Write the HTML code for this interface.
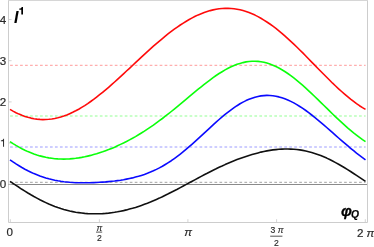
<!DOCTYPE html>
<html><head><meta charset="utf-8"><style>
html,body{margin:0;padding:0;background:#fff;}
svg{display:block}
text{font-family:"Liberation Sans",sans-serif;}
</style></head><body>
<svg style="will-change:transform" width="374" height="247" viewBox="0 0 374 247">
<rect width="374" height="247" fill="#fff"/>
<!-- frame -->
<path d="M8.5,0 V222.5 H367.5 V0" fill="none" stroke="#cdcdcd" stroke-width="1"/>
<path d="M8,0.5H368" fill="none" stroke="#d6d6d6" stroke-width="1"/>
<!-- axis y=0 -->
<path d="M8.5,184.5 H367" stroke="#8a8a8a" stroke-width="1" fill="none"/>
<!-- ticks -->
<g stroke="#cfcfcf" stroke-width="0.9" fill="none">
<path d="M8.8,19.5h2.8M8.8,60.7h2.8M8.8,101.9h2.8M8.8,143.1h2.8M8.8,184.3h2.8"/>
<path d="M10.3,222v-2.8M99.4,222v-2.8M187.9,222v-2.8M276.6,222v-2.8M365.3,222v-2.8"/>
</g>
<!-- dashed -->
<g fill="none" stroke-width="1" stroke-dasharray="2.7,2.285">
<path d="M10.1,65.3H365.6" stroke="#ff9a9a"/>
<path d="M10.1,115.95H365.6" stroke="#b8ffb8" stroke-width="1.5"/>
<path d="M10.1,147H365.6" stroke="#9c9cff"/>
<path d="M10.1,182.3H365.6" stroke="#a0a0a0"/>
</g>
<path d="M10.0,181.4 L13.0,183.4 L16.0,185.4 L19.0,187.3 L21.9,189.3 L24.9,191.1 L27.9,193.0 L30.9,194.8 L33.9,196.5 L36.9,198.1 L39.9,199.7 L42.9,201.2 L45.8,202.6 L48.8,204.0 L51.8,205.2 L54.8,206.4 L57.8,207.5 L60.8,208.5 L63.8,209.4 L66.8,210.2 L69.7,211.0 L72.7,211.6 L75.7,212.2 L78.7,212.6 L81.7,213.0 L84.7,213.4 L87.7,213.6 L90.7,213.7 L93.6,213.8 L96.6,213.8 L99.6,213.7 L102.6,213.6 L105.6,213.4 L108.6,213.1 L111.6,212.7 L114.6,212.3 L117.5,211.8 L120.5,211.2 L123.5,210.6 L126.5,209.9 L129.5,209.1 L132.5,208.3 L135.5,207.4 L138.5,206.4 L141.4,205.4 L144.4,204.3 L147.4,203.2 L150.4,202.0 L153.4,200.7 L156.4,199.4 L159.4,198.1 L162.4,196.7 L165.3,195.2 L168.3,193.8 L171.3,192.2 L174.3,190.7 L177.3,189.2 L180.3,187.6 L183.3,186.0 L186.3,184.4 L189.2,182.8 L192.2,181.2 L195.2,179.6 L198.2,178.0 L201.2,176.4 L204.2,174.8 L207.2,173.3 L210.2,171.7 L213.1,170.2 L216.1,168.8 L219.1,167.3 L222.1,166.0 L225.1,164.6 L228.1,163.3 L231.1,162.0 L234.1,160.8 L237.0,159.6 L240.0,158.5 L243.0,157.4 L246.0,156.4 L249.0,155.4 L252.0,154.5 L255.0,153.7 L258.0,152.9 L260.9,152.1 L263.9,151.5 L266.9,150.9 L269.9,150.4 L272.9,149.9 L275.9,149.6 L278.9,149.3 L281.9,149.1 L284.8,149.0 L287.8,149.0 L290.8,149.1 L293.8,149.2 L296.8,149.5 L299.8,149.9 L302.8,150.4 L305.8,151.0 L308.7,151.7 L311.7,152.5 L314.7,153.4 L317.7,154.4 L320.7,155.5 L323.7,156.8 L326.7,158.1 L329.7,159.5 L332.6,161.0 L335.6,162.6 L338.6,164.2 L341.6,166.0 L344.6,167.8 L347.6,169.6 L350.6,171.5 L353.6,173.5 L356.5,175.4 L359.5,177.4 L362.5,179.4 L365.5,181.4" fill="none" stroke="#101010" stroke-width="1.6" stroke-linejoin="round"/>
<path d="M10.0,159.8 L13.0,161.9 L16.0,163.9 L19.0,165.7 L21.9,167.5 L24.9,169.2 L27.9,170.8 L30.9,172.2 L33.9,173.6 L36.9,174.8 L39.9,176.0 L42.9,177.0 L45.8,178.0 L48.8,178.8 L51.8,179.5 L54.8,180.2 L57.8,180.8 L60.8,181.3 L63.8,181.7 L66.8,182.0 L69.7,182.3 L72.7,182.5 L75.7,182.7 L78.7,182.8 L81.7,182.8 L84.7,182.8 L87.7,182.8 L90.7,182.7 L93.6,182.6 L96.6,182.5 L99.6,182.3 L102.6,182.1 L105.6,181.9 L108.6,181.6 L111.6,181.3 L114.6,181.0 L117.5,180.6 L120.5,180.2 L123.5,179.7 L126.5,179.1 L129.5,178.5 L132.5,177.9 L135.5,177.1 L138.5,176.3 L141.4,175.4 L144.4,174.4 L147.4,173.3 L150.4,172.1 L153.4,170.8 L156.4,169.4 L159.4,167.9 L162.4,166.3 L165.3,164.5 L168.3,162.6 L171.3,160.7 L174.3,158.6 L177.3,156.4 L180.3,154.1 L183.3,151.7 L186.3,149.2 L189.2,146.7 L192.2,144.1 L195.2,141.4 L198.2,138.7 L201.2,135.9 L204.2,133.1 L207.2,130.4 L210.2,127.6 L213.1,124.8 L216.1,122.1 L219.1,119.5 L222.1,116.9 L225.1,114.4 L228.1,112.1 L231.1,109.8 L234.1,107.7 L237.0,105.7 L240.0,103.8 L243.0,102.1 L246.0,100.6 L249.0,99.3 L252.0,98.2 L255.0,97.2 L258.0,96.5 L260.9,95.9 L263.9,95.6 L266.9,95.4 L269.9,95.5 L272.9,95.8 L275.9,96.2 L278.9,96.9 L281.9,97.8 L284.8,98.8 L287.8,100.0 L290.8,101.4 L293.8,102.9 L296.8,104.6 L299.8,106.5 L302.8,108.4 L305.8,110.5 L308.7,112.7 L311.7,115.0 L314.7,117.4 L317.7,119.8 L320.7,122.3 L323.7,124.9 L326.7,127.5 L329.7,130.1 L332.6,132.7 L335.6,135.4 L338.6,138.0 L341.6,140.6 L344.6,143.2 L347.6,145.7 L350.6,148.3 L353.6,150.7 L356.5,153.1 L359.5,155.4 L362.5,157.6 L365.5,159.8" fill="none" stroke="#0a0aff" stroke-width="1.6" stroke-linejoin="round"/>
<path d="M10.0,141.6 L13.0,143.6 L16.0,145.4 L19.0,147.1 L21.9,148.7 L24.9,150.2 L27.9,151.6 L30.9,152.8 L33.9,154.0 L36.9,155.0 L39.9,155.9 L42.9,156.6 L45.8,157.3 L48.8,157.9 L51.8,158.3 L54.8,158.7 L57.8,158.9 L60.8,159.0 L63.8,159.1 L66.8,159.0 L69.7,158.9 L72.7,158.6 L75.7,158.3 L78.7,157.9 L81.7,157.4 L84.7,156.8 L87.7,156.1 L90.7,155.4 L93.6,154.6 L96.6,153.8 L99.6,152.8 L102.6,151.8 L105.6,150.7 L108.6,149.6 L111.6,148.4 L114.6,147.2 L117.5,145.8 L120.5,144.4 L123.5,143.0 L126.5,141.5 L129.5,139.9 L132.5,138.3 L135.5,136.6 L138.5,134.8 L141.4,133.0 L144.4,131.1 L147.4,129.1 L150.4,127.1 L153.4,125.1 L156.4,122.9 L159.4,120.7 L162.4,118.5 L165.3,116.2 L168.3,113.9 L171.3,111.5 L174.3,109.1 L177.3,106.6 L180.3,104.2 L183.3,101.7 L186.3,99.2 L189.2,96.7 L192.2,94.2 L195.2,91.7 L198.2,89.2 L201.2,86.8 L204.2,84.4 L207.2,82.1 L210.2,79.8 L213.1,77.6 L216.1,75.5 L219.1,73.5 L222.1,71.7 L225.1,69.9 L228.1,68.3 L231.1,66.8 L234.1,65.5 L237.0,64.3 L240.0,63.4 L243.0,62.6 L246.0,61.9 L249.0,61.5 L252.0,61.3 L255.0,61.2 L258.0,61.4 L260.9,61.7 L263.9,62.3 L266.9,63.1 L269.9,64.0 L272.9,65.2 L275.9,66.5 L278.9,68.0 L281.9,69.7 L284.8,71.5 L287.8,73.5 L290.8,75.6 L293.8,77.9 L296.8,80.3 L299.8,82.8 L302.8,85.4 L305.8,88.1 L308.7,90.8 L311.7,93.6 L314.7,96.5 L317.7,99.4 L320.7,102.3 L323.7,105.3 L326.7,108.2 L329.7,111.1 L332.6,114.0 L335.6,116.9 L338.6,119.7 L341.6,122.4 L344.6,125.1 L347.6,127.8 L350.6,130.3 L353.6,132.8 L356.5,135.1 L359.5,137.4 L362.5,139.6 L365.5,141.6" fill="none" stroke="#0aff0a" stroke-width="1.6" stroke-linejoin="round"/>
<path d="M10.0,109.4 L13.0,111.1 L16.0,112.7 L19.0,114.1 L21.9,115.3 L24.9,116.4 L27.9,117.3 L30.9,118.1 L33.9,118.7 L36.9,119.1 L39.9,119.4 L42.9,119.6 L45.8,119.5 L48.8,119.3 L51.8,119.0 L54.8,118.5 L57.8,117.8 L60.8,117.0 L63.8,116.1 L66.8,115.0 L69.7,113.7 L72.7,112.3 L75.7,110.8 L78.7,109.2 L81.7,107.4 L84.7,105.6 L87.7,103.6 L90.7,101.5 L93.6,99.4 L96.6,97.1 L99.6,94.7 L102.6,92.3 L105.6,89.8 L108.6,87.3 L111.6,84.7 L114.6,82.0 L117.5,79.3 L120.5,76.6 L123.5,73.8 L126.5,71.0 L129.5,68.3 L132.5,65.5 L135.5,62.7 L138.5,59.9 L141.4,57.1 L144.4,54.3 L147.4,51.6 L150.4,48.9 L153.4,46.2 L156.4,43.6 L159.4,41.1 L162.4,38.6 L165.3,36.1 L168.3,33.7 L171.3,31.4 L174.3,29.2 L177.3,27.1 L180.3,25.0 L183.3,23.1 L186.3,21.2 L189.2,19.5 L192.2,17.9 L195.2,16.3 L198.2,14.9 L201.2,13.7 L204.2,12.5 L207.2,11.5 L210.2,10.6 L213.1,9.9 L216.1,9.3 L219.1,8.8 L222.1,8.5 L225.1,8.4 L228.1,8.4 L231.1,8.5 L234.1,8.8 L237.0,9.2 L240.0,9.8 L243.0,10.6 L246.0,11.5 L249.0,12.6 L252.0,13.8 L255.0,15.1 L258.0,16.6 L260.9,18.3 L263.9,20.1 L266.9,22.0 L269.9,24.0 L272.9,26.2 L275.9,28.4 L278.9,30.8 L281.9,33.3 L284.8,35.9 L287.8,38.6 L290.8,41.3 L293.8,44.1 L296.8,47.0 L299.8,50.0 L302.8,52.9 L305.8,56.0 L308.7,59.0 L311.7,62.1 L314.7,65.1 L317.7,68.2 L320.7,71.3 L323.7,74.3 L326.7,77.3 L329.7,80.3 L332.6,83.2 L335.6,86.0 L338.6,88.8 L341.6,91.5 L344.6,94.1 L347.6,96.6 L350.6,99.1 L353.6,101.4 L356.5,103.6 L359.5,105.7 L362.5,107.6 L365.5,109.4" fill="none" stroke="#ff0a0a" stroke-width="1.6" stroke-linejoin="round"/>

<g fill="#2a2a2a" font-size="11.6" stroke="#2a2a2a" stroke-width="0.2">
<text x="-0.3" y="23.5">4</text>
<text x="-0.3" y="64.7">3</text>
<text x="-0.3" y="105.8">2</text>
<path d="M4.05,146.8 V138.7 H3.35 C3.1,139.8 2.3,140.3 0.9,140.4 V141.2 H3.05 V146.8 Z" stroke="none"/>
<text x="-0.3" y="188.4">0</text>
<text x="6.5" y="235.7">0</text>
<text x="184.3" y="235.5" font-style="italic">π</text>
<text x="356.9" y="236.8">2</text><text x="366.5" y="236.8" font-style="italic">π</text>
</g>
<g fill="#2a2a2a" font-size="8.6" stroke="#2a2a2a" stroke-width="0.15">
<text x="96.4" y="230.6" font-style="italic">π</text>
<text x="96.9" y="241">2</text>
<text x="270.5" y="233">3 <tspan font-style="italic">π</tspan></text>
<text x="273.9" y="245.9">2</text>
</g>
<path d="M96,232.1h6.2M270.2,236.2h12.2" stroke="#2a2a2a" stroke-width="0.8"/>
<text x="14" y="23" font-size="16" font-weight="bold" font-style="italic" fill="#000">I</text>
<path d="M23,14.4 V7 H21.7 C21.4,8 20.5,8.5 19.3,8.5 V9.7 H21.3 V14.4 Z" fill="#000"/>
<text x="341" y="216" font-size="15.5" font-weight="bold" font-style="italic" fill="#000" stroke="#000" stroke-width="0.3">φ</text>
<text x="350.9" y="218.2" font-size="10.3" font-weight="bold" font-style="italic" fill="#000" stroke="#000" stroke-width="0.15">Q</text>
</svg>
</body></html>
